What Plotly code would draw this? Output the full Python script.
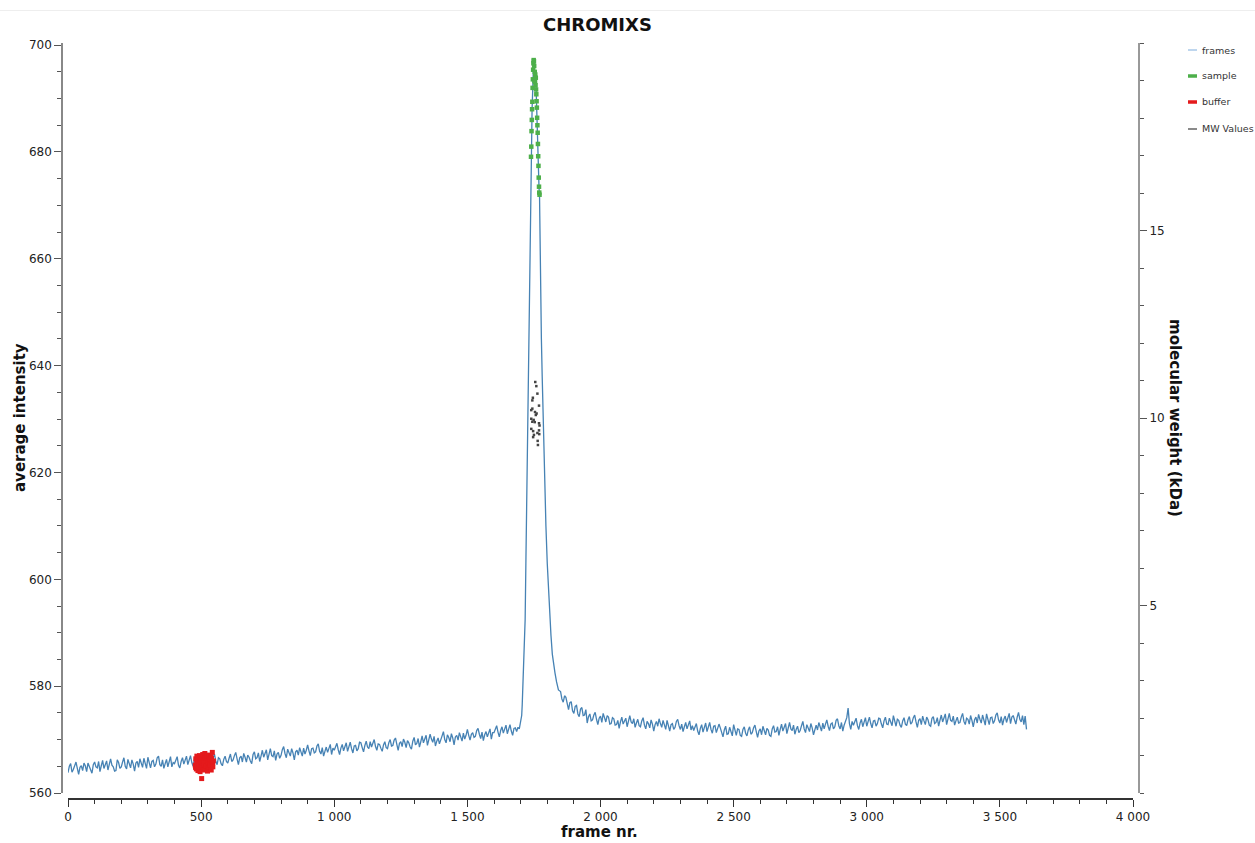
import plotly.graph_objects as go

# ---------------- data ----------------
base_frames = list(range(0, 1700, 5))
base_intensity = [
    563.8, 565.0, 565.5, 563.9, 564.4, 565.2, 565.8, 564.6, 563.5, 564.8, 565.1, 564.2, 565.6, 565.1, 564.0, 565.6, 564.9, 564.3, 563.7, 565.3,
    565.8, 564.9, 564.7, 565.9, 564.0, 565.1, 566.1, 564.6, 565.4, 566.0, 564.3, 565.5, 566.4, 565.2, 564.9, 564.1, 564.2, 566.2, 565.7, 564.6,
    564.9, 565.8, 566.6, 565.0, 564.5, 566.3, 565.5, 564.7, 566.2, 565.4, 564.1, 565.6, 565.9, 564.8, 566.4, 565.3, 564.8, 566.5, 565.2, 564.6,
    566.7, 565.6, 564.7, 565.9, 566.1, 564.9, 565.4, 566.6, 566.9, 565.3, 565.0, 566.2, 564.6, 565.5, 566.3, 564.9, 565.9, 566.8, 564.9, 565.7,
    565.5, 566.3, 566.8, 565.2, 564.7, 565.9, 566.6, 565.4, 566.0, 566.9, 565.3, 566.1, 567.0, 565.7, 565.0, 566.5, 566.4, 565.1, 565.8, 566.7,
    566.7, 565.7, 565.0, 566.4, 567.0, 565.8, 565.6, 566.8, 565.9, 566.5, 567.3, 566.0, 565.3, 566.6, 566.4, 565.5, 565.1, 566.3, 566.9, 565.9,
    565.6, 566.5, 567.3, 565.9, 566.2, 567.0, 567.6, 566.4, 565.3, 566.6, 566.9, 565.8, 567.4, 566.7, 565.8, 567.1, 566.7, 566.0, 565.5, 567.2,
    567.7, 566.4, 566.6, 567.5, 565.9, 566.9, 568.0, 566.7, 567.3, 568.1, 566.2, 567.2, 568.3, 567.0, 566.8, 567.9, 566.1, 567.3, 567.6, 566.5,
    567.0, 568.1, 568.7, 567.4, 566.6, 568.2, 567.6, 566.9, 568.3, 567.5, 566.2, 567.7, 568.0, 567.1, 568.5, 567.6, 566.9, 568.4, 567.3, 568.0,
    569.0, 567.9, 567.0, 568.3, 568.4, 567.5, 567.7, 568.8, 569.2, 567.8, 567.3, 568.5, 566.9, 567.8, 568.6, 567.6, 568.2, 569.1, 567.2, 568.4,
    568.0, 568.9, 569.3, 568.1, 567.2, 568.4, 569.1, 567.9, 568.5, 569.4, 567.8, 568.7, 569.5, 568.3, 567.5, 568.8, 568.9, 567.9, 568.3, 569.5,
    569.4, 568.5, 567.7, 568.9, 569.7, 568.6, 568.3, 569.6, 568.6, 569.3, 570.0, 568.7, 568.0, 569.2, 569.1, 568.4, 567.8, 569.0, 569.6, 568.5,
    568.3, 569.4, 570.0, 568.8, 568.9, 569.9, 570.3, 569.1, 568.0, 569.3, 569.6, 568.7, 570.1, 569.5, 568.5, 569.8, 569.4, 568.6, 568.2, 569.7,
    570.4, 569.0, 569.3, 570.2, 568.6, 569.6, 570.7, 569.4, 570.0, 570.8, 568.9, 569.9, 571.0, 570.1, 569.5, 570.6, 568.8, 569.7, 570.3, 569.2,
    569.8, 570.7, 571.5, 570.0, 569.4, 570.9, 570.4, 569.6, 571.1, 570.3, 569.0, 570.5, 570.8, 569.9, 571.3, 570.6, 569.7, 571.2, 570.1, 570.8,
    571.9, 570.8, 569.9, 571.0, 571.3, 570.4, 570.6, 571.7, 572.1, 571.0, 570.2, 571.4, 569.8, 570.9, 571.5, 570.5, 571.1, 572.0, 570.1, 571.3,
    571.3, 572.0, 572.6, 571.4, 570.5, 571.7, 572.4, 571.2, 571.8, 572.7, 571.1, 572.0, 572.8, 571.6, 570.8, 572.1, 572.2, 571.5, 572.3, 572.0,
]

peak_frames = [
    1698, 1701, 1704, 1706, 1708, 1711, 1713, 1715, 1717,
    1720, 1723, 1726, 1729, 1731, 1733, 1735, 1737, 1738,
    1739, 1740, 1741, 1742, 1743, 1744, 1745, 1746, 1747, 1748,
    1749, 1750, 1751, 1752, 1753, 1754, 1755, 1756, 1757, 1758,
    1759, 1760, 1761, 1762, 1763, 1764, 1765, 1766, 1767, 1768,
    1769, 1770, 1771,
    1772, 1773, 1775, 1778, 1781, 1785, 1790, 1795, 1800, 1805,
    1810, 1814, 1819, 1824, 1829, 1835, 1842,
]
peak_intensity = [
    573.0, 573.6, 574.5, 576.5, 579.0, 583.0, 586.0, 589.5, 592.5,
    604.0, 616.0, 629.0, 642.0, 651.0, 659.0, 666.0, 672.0, 676.0,
    679.1, 681.0, 683.9, 686.0, 688.0, 689.4, 692.0, 693.6, 695.4, 696.6,
    697.2, 697.0, 696.1, 693.3, 695.0, 693.1, 694.5, 692.5, 693.9, 691.7,
    690.8, 689.5, 688.3, 686.4, 685.0, 683.6, 681.5, 679.2, 677.4, 675.2,
    673.5, 672.4, 672.0,
    668.0, 662.0, 652.0, 645.0, 638.0, 629.0, 619.0, 610.0, 603.0, 597.0,
    592.5, 589.5, 586.0, 584.0, 582.5, 580.8, 579.3,
]

tail_frames = list(range(1850, 3601, 5))
tail_intensity = [
    579.0, 577.6, 577.0, 578.2, 577.9, 576.4, 575.6, 576.9, 577.1, 575.4, 574.9, 576.2, 576.4, 574.8, 574.3, 575.7, 576.0, 574.5, 574.6, 575.6,
    573.1, 574.3, 574.8, 573.5, 573.7, 574.6, 575.1, 573.8, 572.8, 574.0, 574.4, 573.2, 574.9, 574.1, 573.3, 574.5, 574.2, 572.9, 573.0, 574.1,
    573.9, 572.7, 572.8, 573.6, 572.1, 573.3, 574.2, 572.9, 573.5, 574.0, 572.4, 573.4, 574.5, 573.3, 573.0, 573.9, 572.3, 573.1, 573.8, 572.6,
    572.4, 573.5, 574.1, 572.7, 572.0, 573.4, 573.0, 572.2, 573.7, 572.9, 571.6, 572.8, 573.4, 572.5, 573.9, 573.0, 572.3, 573.6, 572.7, 571.9,
    573.6, 572.5, 571.6, 572.8, 573.0, 571.9, 572.3, 573.4, 573.8, 572.6, 571.9, 572.9, 571.5, 572.4, 573.2, 572.0, 572.8, 573.5, 571.8, 572.6,
    571.7, 572.6, 573.0, 571.6, 570.9, 572.1, 572.8, 571.4, 572.2, 573.1, 571.5, 572.4, 573.2, 571.9, 571.2, 572.5, 572.6, 571.3, 572.0, 572.9,
    572.2, 571.3, 570.5, 571.8, 572.5, 571.0, 571.1, 572.3, 571.4, 570.7, 572.8, 571.6, 570.8, 572.0, 571.9, 570.8, 570.6, 571.9, 572.4, 571.2,
    570.7, 571.8, 572.4, 571.0, 571.3, 572.2, 572.7, 571.5, 570.4, 571.6, 572.0, 570.9, 572.5, 571.7, 570.9, 572.1, 571.8, 570.8, 570.6, 572.0,
    572.6, 571.4, 571.5, 572.4, 570.8, 571.9, 572.9, 571.6, 572.2, 573.0, 571.1, 572.1, 573.2, 572.0, 571.7, 572.7, 571.0, 571.9, 572.5, 571.3,
    571.7, 572.6, 573.4, 572.0, 571.3, 572.8, 572.3, 571.5, 573.0, 572.2, 570.9, 572.1, 572.7, 571.8, 573.2, 572.4, 571.6, 573.1, 572.0, 572.9,
    573.7, 572.5, 571.7, 572.9, 573.1, 572.0, 572.4, 573.6, 573.9, 572.6, 572.0, 573.2, 571.6, 572.7, 573.3, 574.1, 575.9, 573.0, 571.9, 573.4,
    572.7, 573.5, 574.0, 572.6, 571.9, 573.1, 573.8, 572.4, 573.2, 574.1, 572.5, 573.4, 574.2, 573.0, 572.2, 573.5, 573.6, 572.5, 573.0, 574.0,
    573.9, 572.9, 572.2, 573.5, 574.2, 572.9, 572.8, 574.0, 573.1, 572.6, 574.5, 573.2, 572.5, 573.8, 573.6, 572.7, 572.3, 573.5, 574.1, 572.9,
    572.6, 573.7, 574.3, 572.9, 573.2, 574.1, 574.6, 573.3, 572.3, 573.6, 573.9, 572.8, 574.4, 573.5, 572.8, 574.2, 573.7, 572.7, 572.5, 574.0,
    574.3, 573.0, 573.2, 574.1, 572.5, 573.6, 574.6, 573.3, 573.9, 574.8, 572.8, 573.8, 574.9, 573.6, 573.4, 574.4, 572.7, 573.5, 574.2, 573.1,
    573.2, 574.2, 574.9, 573.4, 572.8, 574.0, 573.8, 572.9, 574.5, 573.6, 572.4, 573.7, 574.2, 573.1, 574.7, 573.8, 573.1, 574.6, 573.5, 572.7,
    574.8, 573.6, 572.8, 574.1, 574.2, 573.0, 573.5, 574.6, 575.0, 573.7, 573.1, 574.3, 572.7, 573.8, 574.4, 573.2, 574.0, 574.9, 573.0, 574.2,
    574.5, 573.4, 572.9, 574.2, 575.1, 573.8, 573.3, 574.5, 572.8, 574.4, 571.9,
]

sample_frames = list(range(1739, 1772))
sample_intensity = [
    679.1, 681.0, 683.9, 686.0, 688.0, 689.4, 692.0, 693.6, 695.4, 696.6,
    697.2, 697.0, 696.1, 693.3, 695.0, 693.1, 694.5, 692.5, 693.9, 691.7,
    690.8, 689.5, 688.3, 686.4, 685.0, 683.6, 681.5, 679.2, 677.4, 675.2,
    673.5, 672.4, 672.0,
]

buffer_frames = [
    478, 479, 480, 482, 483, 484, 486, 487, 488, 490, 491, 492, 494, 495,
    496, 498, 499, 500, 502, 503, 504, 506, 507, 508, 510, 511, 512, 514,
    515, 516, 518, 519, 520, 522, 523, 524, 526, 527, 528, 530, 531, 532,
    534, 535, 536, 538, 539, 540, 542, 543, 544, 546,
]
buffer_intensity = [
    565.2, 564.8, 566.4, 564.5, 565.9, 566.9, 565.0, 566.7, 564.2, 566.2,
    564.6, 565.5, 567.0, 566.1, 564.0, 565.8, 564.9, 566.6, 562.7, 566.4,
    565.1, 567.2, 565.6, 564.4, 566.0, 564.3, 565.3, 567.4, 566.6, 564.6,
    566.5, 565.1, 565.0, 566.9, 567.0, 564.1, 565.7, 564.7, 567.1, 564.8,
    566.2, 566.3, 565.4, 565.2, 566.8, 564.3, 566.5, 565.9, 567.6, 565.5,
    564.9, 566.0,
]

mw_frames = [1755, 1759, 1763, 1746, 1744, 1769, 1744, 1740, 1754, 1760,
             1757, 1740, 1749, 1753, 1744, 1769, 1771, 1740, 1769, 1747,
             1763, 1750, 1770, 1747, 1764, 1765]
mw_kda = [10.96, 10.85, 10.65, 10.54, 10.47, 10.33, 10.25, 10.21, 10.16, 10.12,
          10.08, 9.98, 9.95, 9.89, 9.90, 9.86, 9.80, 9.71, 9.67, 9.65,
          9.60, 9.55, 9.57, 9.49, 9.39, 9.28]

legend_labels = ["frames", "sample", "buffer", "MW Values"]
legend_colors = ["#a9c9e8", "#4daf4a", "#e41a1c", "#8a8a8a"]
legend_widths = [1.5, 3.5, 3.5, 2]

x_ticks = list(range(0, 4001, 500))
y_ticks = list(range(560, 701, 20))
y2_ticks = [5, 10, 15]

# ---------------- layout geometry ----------------
W, H = 1255, 843
L, R, T, B = 62, 116, 43, 44
PW = W - L - R
PH = H - T - B


def px_x(p):
    return (p - L) / PW


def px_y(p):
    return (H - B - p) / PH


FONT = "DejaVu Sans"

fig = go.Figure()

fig.add_trace(go.Scatter(
    x=base_frames + peak_frames + tail_frames,
    y=base_intensity + peak_intensity + tail_intensity,
    mode="lines", line=dict(color="#4682b4", width=1.3),
    name="frames", showlegend=False, hoverinfo="skip"))

fig.add_trace(go.Scatter(
    x=mw_frames, y=mw_kda, yaxis="y2", mode="markers",
    marker=dict(color="#444444", size=2.5, symbol="square"),
    name="MW Values", showlegend=False))

fig.add_trace(go.Scatter(
    x=sample_frames, y=sample_intensity, mode="markers",
    marker=dict(color="#4daf4a", size=4.5, symbol="square"),
    name="sample", showlegend=False))

fig.add_trace(go.Scatter(
    x=buffer_frames, y=buffer_intensity, mode="markers",
    marker=dict(color="#e41a1c", size=5, symbol="square"),
    name="buffer", showlegend=False))

axis_common = dict(showgrid=False, zeroline=False, showline=True,
                   ticks="outside", ticklen=7, tickwidth=1,
                   tickfont=dict(family=FONT, size=12, color="#222222"))

fig.update_layout(
    width=W, height=H,
    margin=dict(l=L, r=R, t=T, b=B, pad=0),
    paper_bgcolor="white", plot_bgcolor="white",
    separators=". ",
    showlegend=False,
    xaxis=dict(**axis_common, range=[0, 4000],
               domain=[px_x(68), px_x(1133)], anchor="free", position=0,
               tickvals=x_ticks, separatethousands=True,
               linecolor="#333333", linewidth=1.5, tickcolor="#333333",
               minor=dict(dtick=100, ticklen=4, ticks="outside", tickcolor="#333333")),
    yaxis=dict(**axis_common, range=[560, 700.4],
               domain=[px_y(793), 1], anchor="free", position=0,
               tickvals=y_ticks,
               linecolor="#888888", linewidth=1.5, tickcolor="#555555",
               minor=dict(dtick=5, ticklen=4, ticks="outside", tickcolor="#555555")),
    yaxis2=dict(**axis_common, range=[0, 20], overlaying="y", side="right",
                anchor="free", position=1, tickvals=y2_ticks,
                linecolor="#999999", linewidth=2, tickcolor="#555555",
                minor=dict(dtick=1, ticklen=4, ticks="outside", tickcolor="#555555")),
)

annotations = [
    dict(text="<b>CHROMIXS</b>", x=px_x(597), y=px_y(24), font=dict(size=18)),
    dict(text="<b>frame nr.</b>", x=px_x(599), y=px_y(832), font=dict(size=15)),
    dict(text="<b>average intensity</b>", x=px_x(20), y=px_y(418),
         textangle=-90, font=dict(size=15)),
    dict(text="<b>molecular weight (kDa)</b>", x=px_x(1175), y=px_y(418),
         textangle=90, font=dict(size=15)),
]
for a in annotations:
    a.update(xref="paper", yref="paper", showarrow=False,
             xanchor="center", yanchor="middle")
    a["font"].update(family=FONT, color="#111111")
    fig.add_annotation(**a)

shapes = [dict(type="line", xref="paper", yref="paper",
               x0=px_x(0), x1=px_x(W), y0=px_y(10.5), y1=px_y(10.5),
               line=dict(color="#eeeeee", width=1))]

legend_rows = [50, 76, 102, 129]
for lbl, col, lw, row in zip(legend_labels, legend_colors, legend_widths, legend_rows):
    shapes.append(dict(type="line", xref="paper", yref="paper",
                       x0=px_x(1188), x1=px_x(1197), y0=px_y(row), y1=px_y(row),
                       line=dict(color=col, width=lw)))
    fig.add_annotation(text=lbl, xref="paper", yref="paper",
                       x=px_x(1200), y=px_y(row), xanchor="left", yanchor="middle",
                       showarrow=False, font=dict(family=FONT, size=9.5, color="#333333"))
fig.update_layout(shapes=shapes)

# the page is shown edge to edge, like the reference picture
fig.write_html("out.html",
               config={"displayModeBar": False},
               post_script="document.body.style.margin='0';"
                           "document.body.style.overflow='hidden';")
